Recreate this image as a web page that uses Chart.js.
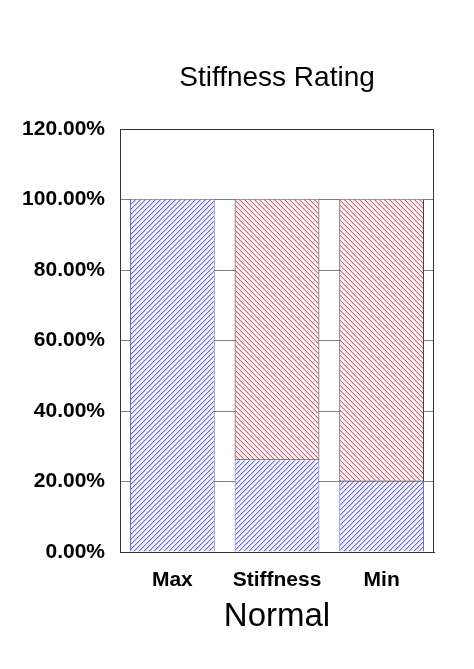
<!DOCTYPE html>
<html>
<head>
<meta charset="utf-8">
<script src="https://cdn.jsdelivr.net/npm/chart.js@4.4.0/dist/chart.umd.min.js"></script>
<style>
    html, body { margin: 0; padding: 0; background: #fff; }
    #wrap { width: 474px; height: 669px; }
</style>
</head>
<body>
<div id="wrap"><canvas id="c" width="474" height="669"></canvas></div>
<script>
// Datos
const categorias = ['Max', 'Stiffness', 'Min'];
const serieAzul = [100, 26, 20];
const serieRoja = [0, 74, 80];
const titulo = 'Stiffness Rating';
const yMin = 0, yMax = 120, yPaso = 20;

Chart.defaults.font.family = '"Liberation Sans", Arial, sans-serif';
Chart.defaults.color = '#000';

const canvasEl = document.getElementById('c');
const ctx = canvasEl.getContext('2d');

/**
 * Trama rayada 5x5 px (dir 1 = '/', dir -1 = '\')
 */
function trama(colorLinea, colorSuave, colorFondo, dir) {
    const t = document.createElement('canvas');
    t.width = 5; t.height = 5;
    const g = t.getContext('2d');
    g.fillStyle = colorFondo;
    g.fillRect(0, 0, 5, 5);
    for (let i = 0; i < 5; i++) {
        const y = dir > 0 ? 4 - i : i;
        g.fillStyle = colorSuave;
        g.fillRect(i, (y + 1) % 5, 1, 1);
        g.fillStyle = colorLinea;
        g.fillRect(i, y, 1, 1);
    }
    return ctx.createPattern(t, 'repeat');
}

// Marco alrededor del área y título centrado sobre ella
const marco = {
    id: 'marco',
    afterDraw(chart) {
        const a = chart.chartArea;
        const c = chart.ctx;
        c.save();
        c.strokeStyle = '#333';
        c.lineWidth = 1;
        c.strokeRect(Math.round(a.left) + 0.5, Math.round(a.top) + 0.5,
            Math.round(a.right - a.left) - 1, Math.round(a.bottom - a.top));
        c.fillStyle = '#000';
        c.font = '28px "Liberation Sans", Arial, sans-serif';
        c.textAlign = 'center';
        c.textBaseline = 'middle';
        c.fillText(titulo, (a.left + a.right) / 2, 78);
        c.restore();
    }
};

new Chart(canvasEl, {
    type: 'bar',
    data: {
        labels: categorias,
        datasets: [
            {
                label: 'Azul',
                data: serieAzul,
                backgroundColor: trama('#6a6ad6', '#c4c4f0', '#f2f2ff', 1),
                borderColor: '#6060c8',
                borderWidth: { left: 1, right: 1, top: 0, bottom: 0 },
                borderSkipped: false,
                barPercentage: 0.81,
                categoryPercentage: 1
            },
            {
                label: 'Rojo',
                data: serieRoja,
                backgroundColor: trama('#c86a7a', '#efc6cc', '#fff2f4', -1),
                borderColor: '#3a2a2a',
                borderWidth: { left: 1, right: 1, top: 0, bottom: 1 },
                borderSkipped: false,
                barPercentage: 0.81,
                categoryPercentage: 1
            }
        ]
    },
    options: {
        responsive: false,
        animation: false,
        layout: { padding: { left: 0, right: 40, top: 129, bottom: 0 } },
        plugins: {
            legend: { display: false },
            tooltip: { enabled: false },
            title: { display: false }
        },
        scales: {
            x: {
                stacked: true,
                grid: { display: false, drawTicks: false },
                border: { display: true, color: '#333' },
                ticks: { font: { size: 21, weight: 'bold' }, padding: 16, color: '#000' },
                title: {
                    display: true,
                    text: 'Normal',
                    font: { size: 33, weight: 'normal' },
                    color: '#000',
                    padding: { top: 0, bottom: 32 }
                },
                afterFit(scale) { scale.height = 117; }
            },
            y: {
                stacked: true,
                min: yMin,
                max: yMax,
                grid: { color: '#808080', drawTicks: false },
                border: { display: true, color: '#333' },
                ticks: {
                    stepSize: yPaso,
                    padding: 15,
                    font: { size: 21, weight: 'bold' },
                    color: '#000',
                    callback: (v) => v.toFixed(2) + '%'
                },
                afterFit(scale) { scale.width = 120; }
            }
        }
    },
    plugins: [marco]
});
</script>
</body>
</html>
